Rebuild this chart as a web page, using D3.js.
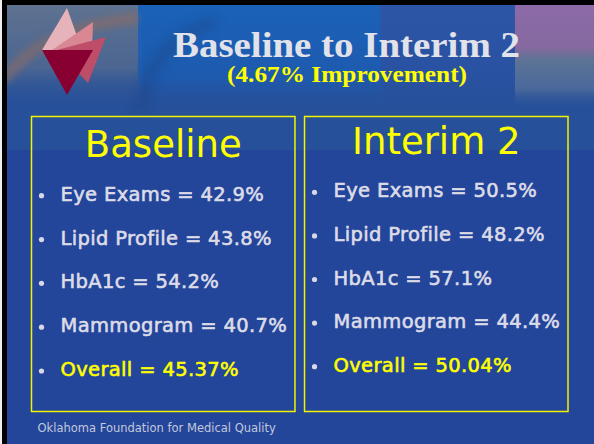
<!DOCTYPE html>
<html>
<head>
<meta charset="utf-8">
<script src="https://cdn.jsdelivr.net/npm/d3@7"></script>
<style>
  html, body { margin: 0; padding: 0; background: #fff; }
  svg { display: block; }
</style>
</head>
<body>
<div id="slide"></div>
<script>
var width = 594,
    height = 444;

// slide data
var title = "Baseline to Interim 2";
var subtitle = "(4.67% Improvement)";
var measures = ["Eye Exams", "Lipid Profile", "HbA1c", "Mammogram", "Overall"];
var baselineValues = [42.9, 43.8, 54.2, 40.7, 45.37];
var interimValues = [50.5, 48.2, 57.1, 44.4, 50.04];
var panels = ["Baseline", "Interim 2"];
var footer = "Oklahoma Foundation for Medical Quality";

var fmtItem = d3.format(".1f"),
    fmtOverall = d3.format(".2f");

var svg = d3.select("#slide").append("svg")
    .attr("width", width)
    .attr("height", height);

var defs = svg.append("defs");
defs.append("filter").attr("id", "soft")
    .attr("x", "-20%").attr("y", "-20%").attr("width", "140%").attr("height", "140%")
  .append("feGaussianBlur").attr("stdDeviation", 6);
defs.append("filter").attr("id", "soft2")
    .attr("x", "-20%").attr("y", "-20%").attr("width", "140%").attr("height", "140%")
  .append("feGaussianBlur").attr("stdDeviation", 3);

function vgrad(id, stops) {
  var g = defs.append("linearGradient").attr("id", id)
      .attr("x1", 0).attr("y1", 0).attr("x2", 0).attr("y2", 1);
  stops.forEach(function(s) {
    g.append("stop").attr("offset", s[0]).attr("stop-color", s[1]).attr("stop-opacity", s[2]);
  });
}
vgrad("gLeft", [[0, "#5f7290", 1], [0.6, "#4f6890", 0.9], [1, "#26509a", 0]]);
vgrad("gMid", [[0, "#1a62b8", 1], [0.7, "#1c5cb2", 0.85], [1, "#26509a", 0]]);
vgrad("gRightBlue", [[0, "#2d56a8", 1], [0.7, "#2a52a4", 0.7], [1, "#26509a", 0]]);
vgrad("gPurple", [[0, "#8c6aa8", 1], [0.4, "#86699f", 1], [0.52, "#5e7396", 1], [0.8, "#55709a", 0.75], [1, "#26509a", 0]]);

// background
svg.append("rect").attr("width", width).attr("height", height).attr("fill", "#23459a");
svg.append("rect").attr("x", 0).attr("y", 0).attr("width", width).attr("height", 150)
    .attr("fill", "#26509a");

// picture band along the top
var band = svg.append("g");
band.append("rect").attr("x", 7).attr("y", 5).attr("width", 135).attr("height", 105).attr("fill", "url(#gLeft)");
band.append("rect").attr("x", 138).attr("y", 5).attr("width", 245).attr("height", 105).attr("fill", "url(#gMid)");
band.append("rect").attr("x", 380).attr("y", 5).attr("width", 140).attr("height", 105).attr("fill", "url(#gRightBlue)");
band.append("rect").attr("x", 515).attr("y", 5).attr("width", 79).attr("height", 105).attr("fill", "url(#gPurple)");
band.append("path")
    .attr("d", "M4,80 Q40,28 138,18")
    .attr("fill", "none").attr("stroke", "#8a6c66").attr("stroke-width", 12)
    .attr("opacity", 0.6).attr("filter", "url(#soft2)");
band.append("path")
    .attr("d", "M140,110 Q150,40 215,22")
    .attr("fill", "none").attr("stroke", "#1d3f7c").attr("stroke-width", 10)
    .attr("opacity", 0.45).attr("filter", "url(#soft)");

// frame
svg.append("rect").attr("x", 0).attr("y", 0).attr("width", width).attr("height", 5).attr("fill", "#000");
svg.append("rect").attr("x", 2).attr("y", 0).attr("width", 5).attr("height", height).attr("fill", "#000");
svg.append("rect").attr("x", 0).attr("y", 0).attr("width", 2).attr("height", height).attr("fill", "#eee");

// logo
var logo = svg.append("g");
[
  {pts: [[67, 8], [42, 50], [82, 50]], fill: "#e6b3bb"},
  {pts: [[93, 22], [52, 50], [92, 53]], fill: "#d98793"},
  {pts: [[106, 37], [57, 50], [88, 83]], fill: "#bd4d69"},
  {pts: [[42, 50], [93, 50], [67, 95]], fill: "#880032"}
].forEach(function(t) {
  logo.append("path")
      .attr("d", d3.line()(t.pts) + "Z")
      .attr("fill", t.fill);
});

// titles
svg.append("text")
    .attr("x", 173).attr("y", 57)
    .attr("textLength", 347)
    .attr("lengthAdjust", "spacingAndGlyphs")
    .style("font-family", "'Liberation Serif', 'DejaVu Serif', serif")
    .style("font-weight", "bold")
    .style("font-size", "35px")
    .attr("fill", "#e2e2ea")
    .text(title);

svg.append("text")
    .attr("x", 227).attr("y", 82)
    .attr("textLength", 240)
    .attr("lengthAdjust", "spacingAndGlyphs")
    .style("font-family", "'Liberation Serif', 'DejaVu Serif', serif")
    .style("font-weight", "bold")
    .style("font-size", "22.5px")
    .attr("fill", "#ffff00")
    .text(subtitle);

// panels
var panelX = d3.scaleBand()
    .domain(panels)
    .range([31.5, 568])
    .paddingInner(0.035);

var boxes = [
  {name: panels[0], values: baselineValues, headY: 157, top: 200.7, bottom: 376},
  {name: panels[1], values: interimValues, headY: 153.5, top: 197.3, bottom: 371.7}
];

boxes.forEach(function(b) {
  var x0 = panelX(b.name), w = panelX.bandwidth();
  var g = svg.append("g");

  g.append("rect")
      .attr("x", x0).attr("y", 116.5)
      .attr("width", w).attr("height", 295)
      .attr("fill", "none")
      .attr("stroke", "#f4f400")
      .attr("stroke-width", 1.5);

  g.append("text")
      .attr("x", x0 + w / 2).attr("y", b.headY)
      .attr("text-anchor", "middle")
      .style("font-family", "'DejaVu Sans', Verdana, sans-serif")
      .style("font-size", "37px")
      .attr("fill", "#ffff00")
      .text(b.name);

  var y = d3.scalePoint()
      .domain(measures)
      .range([b.top, b.bottom]);

  var rows = g.selectAll(".row")
      .data(measures.map(function(m, i) { return {m: m, v: b.values[i]}; }))
    .enter().append("g")
      .attr("class", "row")
      .attr("transform", function(d) { return "translate(" + x0 + "," + y(d.m) + ")"; });

  rows.append("circle")
      .attr("cx", 10).attr("cy", -5).attr("r", 2.6)
      .attr("fill", "#d8d8e6");

  rows.append("text")
      .attr("x", 29)
      .style("font-family", "'DejaVu Sans', Verdana, sans-serif")
      .style("font-size", "19.5px")
      .style("letter-spacing", "0.35px")
      .attr("fill", function(d) { return d.m === "Overall" ? "#ffff00" : "#dcdce8"; })
      .attr("stroke", function(d) { return d.m === "Overall" ? "#ffff00" : "#dcdce8"; })
      .attr("stroke-width", 0.6)
      .text(function(d) {
        var f = d.m === "Overall" ? fmtOverall : fmtItem;
        return d.m + " = " + f(d.v) + "%";
      });
});

svg.append("text")
    .attr("x", 37.5).attr("y", 432)
    .style("font-family", "'DejaVu Sans', Verdana, sans-serif")
    .style("font-size", "11.5px")
    .attr("fill", "#c4c8dc")
    .text(footer);
</script>
</body>
</html>
